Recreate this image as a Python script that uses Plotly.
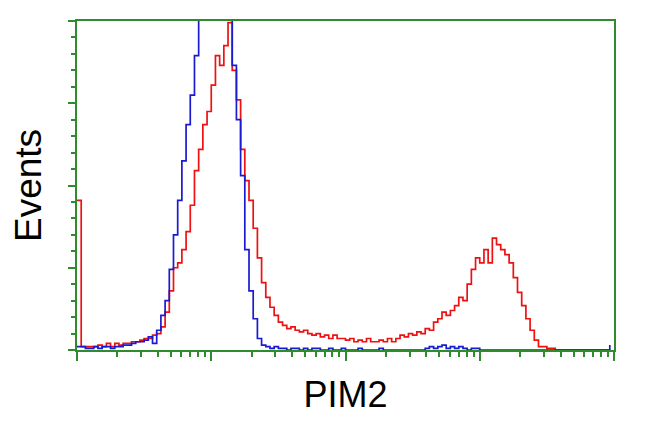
import numpy as np
import plotly.graph_objects as go

# channel index (32 channels per decade, 4 decades)
channels = list(range(128))

blue_counts = [2, 2, 1, 1, 2, 1, 2, 2, 1, 2,
               2, 3, 3, 4, 5, 5, 6, 8, 4, 12,
               21, 30, 49, 70, 91, 115, 137, 155, 179, 215,
               230, 245, 250, 245, 235, 225, 201, 173, 140, 106,
               61, 36, 19, 7, 3, 2, 1, 2, 1, 1,
               0, 1, 1, 0, 1, 0, 1, 1, 0, 0,
               1, 0, 0, 1, 0, 0, 0, 1, 0, 0,
               0, 0, 1, 0, 0, 0, 0, 0, 0, 0,
               0, 0, 0, 1, 2, 1, 2, 3, 1, 2,
               1, 2, 1, 0, 1, 1, 0, 0, 0, 0,
               0, 0, 0, 0, 0, 0, 0, 0, 0, 0,
               0, 0, 0, 0, 0, 0, 0, 0, 0, 0,
               0, 0, 0, 0, 0, 0, 0, 3]

red_counts = [91, 2, 2, 2, 2, 3, 2, 4, 2, 4,
              3, 4, 4, 5, 5, 6, 7, 7, 9, 10,
              14, 23, 36, 50, 53, 61, 72, 88, 109, 122,
              137, 145, 161, 179, 173, 185, 199, 170, 152, 122,
              103, 91, 74, 56, 41, 32, 26, 21, 17, 15,
              13, 14, 12, 11, 12, 10, 9, 10, 8, 9,
              7, 9, 7, 7, 6, 7, 5, 6, 5, 7,
              5, 5, 6, 5, 7, 5, 7, 9, 8, 10,
              9, 11, 10, 13, 12, 17, 19, 23, 21, 24,
              27, 32, 30, 40, 49, 56, 53, 61, 53, 68,
              64, 61, 58, 53, 44, 35, 27, 19, 12, 6,
              2, 2, 1, 1, 0, 0, 0, 0, 0, 0,
              0, 0, 0, 0, 0, 0, 0, 0]

x_vals = [10 ** (c / 32) for c in channels]

fig = go.Figure()
fig.add_trace(go.Scatter(x=x_vals, y=red_counts, mode="lines",
                         line=dict(color="#ee1111", width=1.7, shape="hv"),
                         showlegend=False))
fig.add_trace(go.Scatter(x=x_vals, y=blue_counts, mode="lines",
                         line=dict(color="#1a1ad0", width=1.7, shape="hv"),
                         showlegend=False))

green = "#2e8b2e"
fig.update_layout(
    width=650, height=432,
    margin=dict(l=69, r=44, t=13, b=90),
    paper_bgcolor="white", plot_bgcolor="white",
    font=dict(family="Liberation Sans, Arial, sans-serif", color="black"),
    xaxis=dict(type="log", range=[0, 4], showgrid=False, zeroline=False,
               showline=True, linecolor=green, linewidth=2, mirror=True,
               tickvals=[1, 10, 100, 1000, 10000], ticks="outside",
               ticklen=9, tickwidth=2, tickcolor=green, showticklabels=False,
               minor=dict(ticks="outside", dtick="D1", ticklen=5, tickwidth=2,
                          tickcolor=green, showgrid=False),
               title=dict(text="PIM2", font=dict(size=36), standoff=22)),
    yaxis=dict(range=[0, 200], showgrid=False, zeroline=False,
               showline=True, linecolor=green, linewidth=2, mirror=True,
               tickvals=[0, 50, 100, 150, 200], ticks="outside",
               ticklen=7, tickwidth=2, tickcolor=green, showticklabels=False,
               minor=dict(ticks="outside", dtick=10, ticklen=4, tickwidth=2,
                          tickcolor=green, showgrid=False),
               title=dict(text="Events", font=dict(size=37), standoff=20)),
)

fig.write_html("out.html")
